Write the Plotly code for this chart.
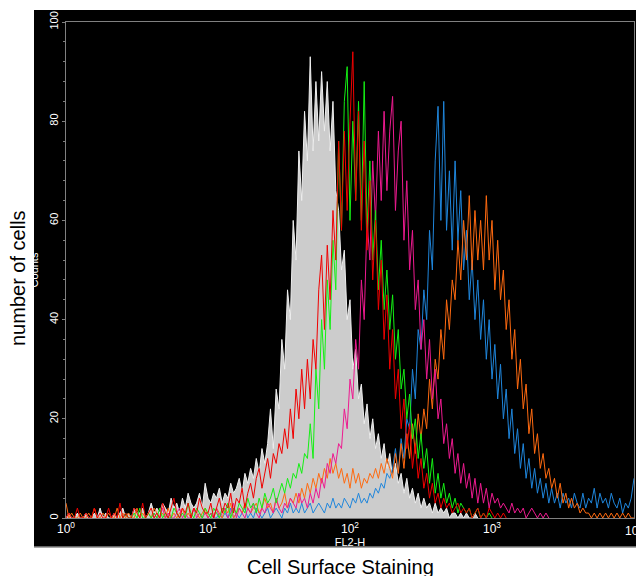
import plotly.graph_objects as go

# Histogram bins: log10(FL2-H) positions start at *_start, spaced by STEP decades
STEP = 0.02

gray_start = 0.0
gray = [0,1,0,0,1,0,0,1,0,0,1,0,2,0,1,0,0,1,0,1,2,0,1,0,2,1,
        1,2,0,1,3,1,2,1,3,2,1,4,2,3,1,4,2,5,3,2,
        3,5,2,7,4,3,5,4,6,3,5,4,7,5,6,8,5,9,7,10,8,12,9,14,11,
        15,22,14,26,22,36,30,46,40,60,52,74,64,82,72,93,74,88,76,90,
        78,88,74,84,66,62,50,54,40,44,30,34,24,27,19,23,16,20,14,17,
        12,15,10,13,8,11,7,9,5,8,
        4,6,3,5,2,4,2,3,1,3,1,2,1,2,0,1,1,0,1,0,1,0,0,1,0]

red_start = 0.0
red = [0,1,0,0,2,0,0,1,0,0,2,0,1,0,0,2,0,1,0,3,0,1,0,0,2,1,0,3,0,1,2,0,1,0,3,1,0,2,4,1,
       0,2,1,3,0,2,1,4,2,1,
       1,3,0,2,4,1,3,2,5,1,4,3,6,2,5,7,4,8,10,6,9,12,8,13,11,15,13,18,
       14,22,16,26,20,30,22,32,24,36,30,46,53,38,55,44,62,52,76,58,
       78,62,80,94,64,82,58,76,54,68,48,60,42,52,36,45,30,38,24,30,
       18,24,14,19,10,15,8,12,6,9,4,7,3,5,2,4,
       2,3,1,2,3,1,2,1,2,0,1,2,0,1,0,2,1,0,1,0,1,0]

green_start = 0.4
green = [0,1,0,0,1,0,2,0,0,1,0,1,0,2,0,1,0,0,2,1,0,1,0,3,1,0,2,1,0,2,
         1,0,2,1,0,2,1,3,0,2,1,3,2,1,4,2,3,1,4,2,5,3,4,6,3,5,
         7,5,8,6,9,8,11,9,13,12,
         19,12,30,22,40,30,48,38,56,46,76,58,84,91,60,80,64,84,60,88,
         58,72,52,62,46,56,42,50,38,45,32,38,26,30,20,25,16,20,12,17,
         10,14,7,12,5,9,4,7,3,5,
         2,4,1,3,2,1,2,0,1,2,0,1,0,1,0]

magenta_start = 0.6
magenta = [0,1,0,0,2,0,1,0,0,1,2,0,1,0,0,2,0,1,0,1,
           0,1,0,2,0,1,2,0,1,3,0,2,1,0,2,1,3,1,0,2,1,3,2,1,4,2,1,3,2,4,3,2,5,3,4,2,
           5,3,6,4,8,6,11,9,13,11,15,
           14,22,18,28,24,36,30,48,40,60,52,72,60,78,64,82,66,78,85,62,
           74,80,56,68,50,58,42,48,34,40,28,36,24,30,20,24,15,19,12,16,
           9,13,7,11,6,9,4,8,3,7,3,6,2,5,
           3,4,2,3,2,1,3,1,2,1,2,0,1,2,1,0,1,0,1,0]

blue_start = 1.0
blue = [0,1,0,0,1,0,1,0,2,0,1,0,1,2,0,1,0,2,1,0,1,2,0,1,2,1,0,2,1,3,1,
        2,1,3,1,2,3,1,2,3,2,1,3,2,4,2,3,2,4,3,2,4,3,5,3,4,3,5,4,6,5,7,6,9,8,
        10,14,9,16,12,20,18,30,24,38,34,46,40,58,50,72,83,60,84,58,
        70,54,72,56,66,50,58,44,52,40,48,36,44,32,40,28,35,24,31,20,
        26,16,22,13,18,10,15,8,12,6,10,5,8,4,7,3,6,
        3,5,2,5,3,4,2,5,3,2,5,2,4,3,6,2,5,3,4,2,5,3,2,4,1,3,2,4,8]

orange_start = 0.0
orange = [3,0,1,0,0,1,0,0,1,0,2,0,0,1,0,1,0,0,2,0,1,0,1,0,0,2,0,1,0,1,0,2,1,0,1,0,2,0,1,0,
          1,2,0,1,0,2,1,0,1,2,0,
          1,0,2,1,0,2,1,3,0,1,2,1,3,2,1,2,3,1,2,4,2,3,1,4,2,3,5,2,4,3,
          5,3,6,4,7,5,8,6,9,7,10,8,12,9,11,8,10,7,9,6,10,7,9,6,8,7,9,8,10,8,11,9,12,10,
          8,13,9,15,10,17,12,19,13,21,16,22,18,28,22,32,28,38,32,44,
          38,48,44,56,48,60,52,65,50,62,52,60,50,65,52,60,46,56,44,50,
          38,44,32,38,26,32,22,27,17,22,13,17,10,13,8,10,6,8,4,7,3,5,2,4,2,3,1,2,
          1,1,0,1,0,1,0,1,0,1,0,1,0,1,0,1,0,0]

x_tickvals = [1, 10, 100, 1000]
x_ticktext = ["10<sup>0</sup>", "10<sup>1</sup>", "10<sup>2</sup>", "10<sup>3</sup>"]
x_edge_label = "10<sup>4</sup>"   # last decade label, partly past the right edge
y_tickvals = [0, 20, 40, 60, 80, 100]


def bins(start, n):
    return [10 ** (start + i * STEP) for i in range(n)]


FONT = "Liberation Sans, Arial, sans-serif"
fig = go.Figure()

fig.add_trace(go.Scatter(x=bins(gray_start, len(gray)), y=gray, mode="lines",
                         line=dict(color="#eeeeee", width=1), fill="tozeroy",
                         fillcolor="#cccccc", hoverinfo="skip"))
for vals, start, color in [(blue, blue_start, "#1f86dc"),
                           (orange, orange_start, "#ff6a10"),
                           (magenta, magenta_start, "#ee1a90"),
                           (green, green_start, "#14f014"),
                           (red, red_start, "#f00000")]:
    fig.add_trace(go.Scatter(x=bins(start, len(vals)), y=vals, mode="lines",
                             line=dict(color=color, width=1), hoverinfo="skip"))

W, H = 636, 576
ML, MR, MT, MB = 66, 2, 22, 58
pw, ph = W - ML - MR, H - MT - MB


def px2x(px):
    return (px - ML) / pw


def px2y(py):
    return (H - MB - py) / ph


fig.update_layout(
    width=W, height=H,
    margin=dict(l=ML, r=MR, t=MT, b=MB, pad=0),
    paper_bgcolor="white", plot_bgcolor="black",
    showlegend=False,
    font=dict(family=FONT),
    xaxis=dict(type="log", range=[0, 4], tickvals=x_tickvals, ticktext=x_ticktext,
               tickfont=dict(color="white", size=12, family=FONT),
               showgrid=False, zeroline=False, showline=True, linecolor="#808080",
               mirror=True, ticks="", layer="below traces",
               title=dict(text="FL2-H", font=dict(color="white", size=11, family=FONT), standoff=1)),
    yaxis=dict(range=[0, 100], tickvals=y_tickvals, tickangle=-90,
               tickfont=dict(color="white", size=11, family=FONT),
               showgrid=False, zeroline=False, showline=True, linecolor="#808080",
               mirror=True, ticks="outside", ticklen=3, tickcolor="#808080",
               minor=dict(dtick=4, ticks="outside", ticklen=2, tickcolor="#808080"),
               layer="below traces",
               title=dict(text="Counts", font=dict(color="white", size=11, family=FONT), standoff=6)),
    shapes=[
        dict(type="rect", xref="paper", yref="paper", x0=px2x(34), x1=px2x(636),
             y0=px2y(547), y1=px2y(10), fillcolor="black", line=dict(width=0), layer="below"),
        dict(type="line", xref="paper", yref="paper", x0=px2x(34), x1=px2x(636),
             y0=px2y(547), y1=px2y(547), line=dict(color="#888888", width=1.5), layer="below"),
    ],
    annotations=[
        dict(text=x_edge_label, xref="x", yref="paper", x=4, y=0, yshift=-2,
             showarrow=False, font=dict(size=12, color="white", family=FONT),
             xanchor="center", yanchor="top"),
        dict(text="number of cells", xref="paper", yref="paper", x=px2x(18), y=px2y(278),
             showarrow=False, textangle=-90, font=dict(size=20, color="black", family=FONT),
             xanchor="center", yanchor="middle"),
        dict(text="Cell Surface Staining", xref="paper", yref="paper", x=px2x(340), y=px2y(567),
             showarrow=False, font=dict(size=20, color="black", family=FONT),
             xanchor="center", yanchor="middle"),
    ],
)

fig.write_html("out.html")
